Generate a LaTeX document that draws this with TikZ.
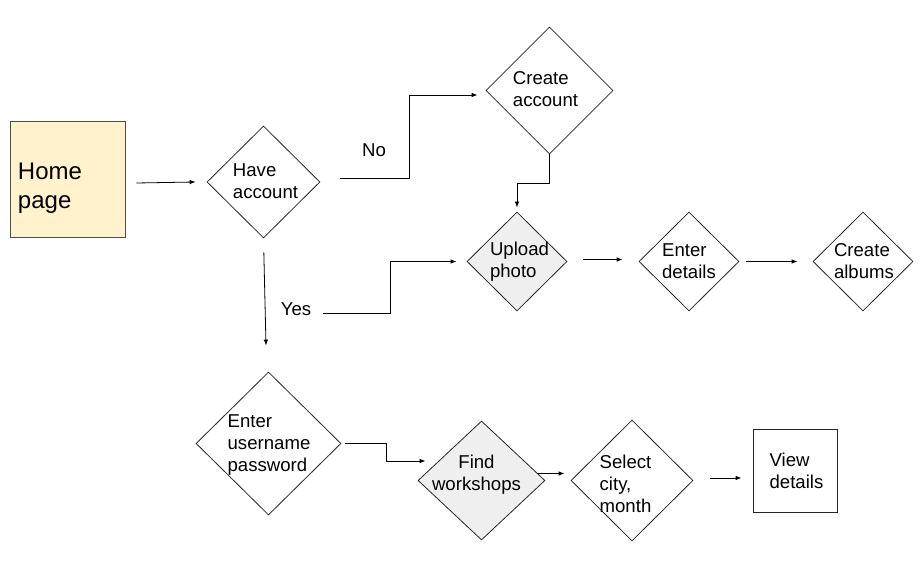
\documentclass[tikz,border=0pt]{standalone}
\usepackage{fontspec}
\setmainfont{Liberation Sans}
\usetikzlibrary{shapes.geometric,arrows.meta}
\definecolor{homefill}{HTML}{FFF2CC}
\definecolor{grayfill}{HTML}{EFEFEF}
\newcommand{\dtxt}[4]{\smash{\raisebox{\dimexpr#3-6pt\relax}{\makebox[0pt]{\kern#2\kern#2\begin{tabular}{@{}#1@{}}#4\end{tabular}}}}}
\tikzset{
  every node/.style={font=\fontsize{18.6}{22}\selectfont},
  dia/.style={shape=diamond, draw=black!85, line width=0.8pt, inner sep=0pt},
  box/.style={shape=rectangle, draw=black!85, line width=0.8pt, inner sep=0pt},
  arr/.style={draw=black, line width=0.8pt, -{Latex[length=6pt,width=4.5pt]}},
  lbl/.style={inner sep=0pt}
}
\begin{document}
\begin{tikzpicture}[x=1pt,y=1pt]
\useasboundingbox (0,0) rectangle (924,-569);
% nodes
\node[box, fill=homefill, draw=black!70, minimum width=115pt, minimum height=116pt,
  font=\fontsize{24}{29}\selectfont] (home) at (67.5,-179) {\dtxt{l}{-17.5pt}{-9.5pt}{Home\\page}};
\node[dia, minimum width=113pt, minimum height=112pt] (have) at (263.5,-182) {\dtxt{l}{2pt}{1pt}{Have\\account}};
\node[dia, minimum width=127pt, minimum height=127pt] (create) at (549.5,-90.5) {\dtxt{l}{-4pt}{1.5pt}{Create\\account}};
\node[dia, fill=grayfill, minimum width=100pt, minimum height=99pt] (upload) at (517,-261.5) {\dtxt{l}{2.5pt}{1pt}{Upload\\photo}};
\node[dia, minimum width=100pt, minimum height=99pt] (details) at (689,-261.5) {\dtxt{l}{0pt}{0pt}{Enter\\details}};
\node[dia, minimum width=100pt, minimum height=99pt] (albums) at (863,-261.5) {\dtxt{l}{1pt}{0pt}{Create\\albums}};
\node[dia, minimum width=145pt, minimum height=143pt] (user) at (268.5,-443.5) {\dtxt{l}{0.5pt}{0.5pt}{Enter\\username\\password}};
\node[dia, fill=grayfill, minimum width=127pt, minimum height=119pt] (find) at (481.5,-480.5) {\dtxt{c}{-5pt}{7pt}{Find\\workshops}};
\node[dia, minimum width=122pt, minimum height=121pt] (select) at (632,-480.5) {\dtxt{l}{-6.5pt}{-3.5pt}{Select\\city,\\month}};
\node[box, minimum width=84pt, minimum height=83pt] (view) at (795,-470.5) {\dtxt{l}{1.5pt}{-0.5pt}{View\\details}};
\node[lbl] (no) at (374,-150) {No};
\node[lbl] (yes) at (296,-309) {Yes};
% connectors
\draw[arr] ([xshift=11pt,yshift=-4pt]home.east) -- ([xshift=-11pt]have.west);
\draw[arr] ([xshift=20pt,yshift=4pt]have.east) -- ++(69,0) |- ([xshift=-8pt,yshift=-4.5pt]create.west);
\draw[arr] (create.south) -- ++(0,-29) -| ([yshift=4pt]upload.north);
\draw[arr, shorten <=14pt] (have.south) -- ([xshift=-2.5pt,yshift=26pt]user.north);
\draw[arr] ([xshift=12pt,yshift=-4pt]yes.east) -- ++(67,0) |- ([xshift=-10pt]upload.west);
\draw[arr] ([xshift=16pt,yshift=2pt]upload.east) -- ([xshift=-16pt,yshift=2pt]details.west);
\draw[arr] ([xshift=7pt]details.east) -- ([xshift=-15pt]albums.west);
\draw[arr] ([xshift=4pt]user.east) -- ++(41,0) |- ([xshift=8pt,yshift=19.5pt]find.west);
\draw[arr] ([xshift=-8pt,yshift=7pt]find.east) -- ([xshift=-6pt,yshift=7pt]select.west);
\draw[arr] ([xshift=17pt,yshift=2.5pt]select.east) -- ([xshift=-11pt,yshift=-7.5pt]view.west);
\end{tikzpicture}
\end{document}
